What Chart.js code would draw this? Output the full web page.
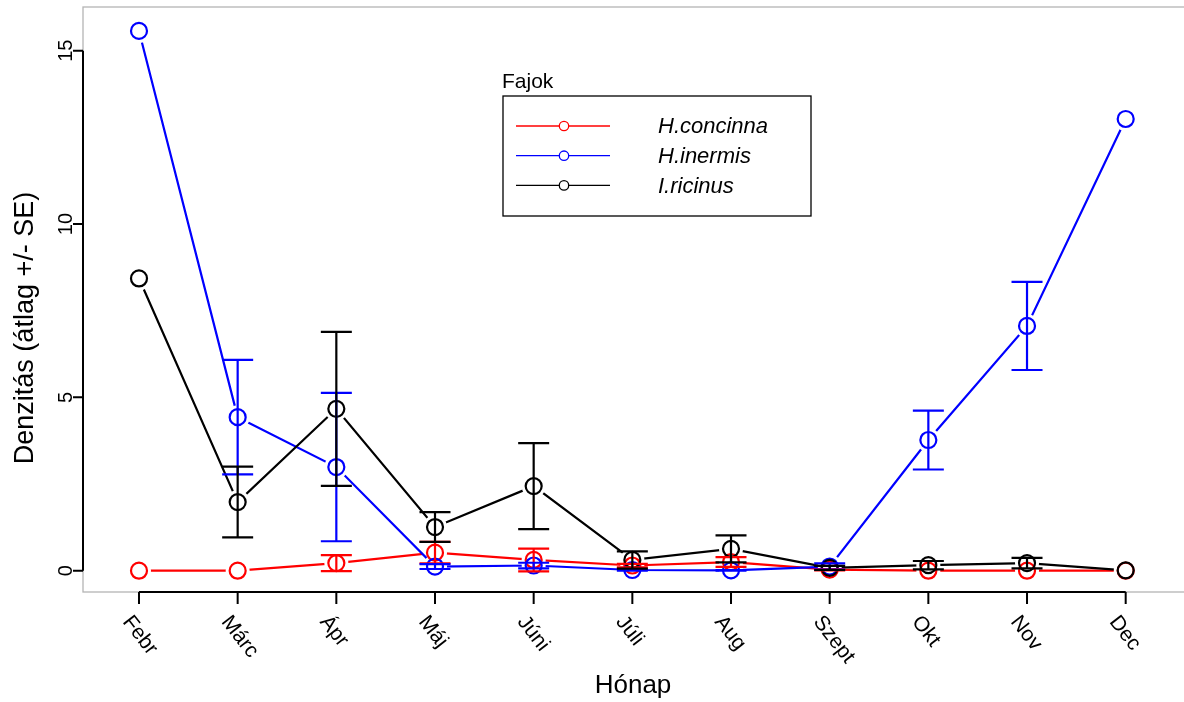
<!DOCTYPE html>
<html>
<head>
<meta charset="utf-8">
<script src="https://cdn.jsdelivr.net/npm/chart.js@4.4.0/dist/chart.umd.min.js"></script>
<style>
	body { margin: 0; background: #fff; }
	canvas { display: block; }
</style>
</head>
<body>
<canvas id="chart" width="1184" height="702"></canvas>
<script>
var months = ['Febr', 'Márc', 'Ápr', 'Máj', 'Júni', 'Júli', 'Aug', 'Szept', 'Okt', 'Nov', 'Dec'];

var concinna_mean = [0, 0, 0.22, 0.52, 0.31, 0.15, 0.25, 0.03, 0, 0, 0];
var concinna_se   = [0, 0, 0.23, 0.31, 0.33, 0.05, 0.14, 0.02, 0, 0, 0];

var inermis_mean  = [15.57, 4.43, 2.99, 0.12, 0.15, 0.02, 0.01, 0.12, 3.77, 7.06, 13.03];
var inermis_se    = [0, 1.65, 2.14, 0.07, 0.08, 0.02, 0.01, 0.09, 0.85, 1.27, 0];

var ricinus_mean  = [8.43, 1.98, 4.67, 1.26, 2.44, 0.31, 0.63, 0.08, 0.16, 0.22, 0.01];
var ricinus_se    = [0, 1.02, 2.22, 0.43, 1.24, 0.25, 0.39, 0.06, 0.12, 0.15, 0];

var species = ['H.concinna', 'H.inermis', 'I.ricinus'];
var colors  = ['#ff0000', '#0000ff', '#000000'];
var y_ticks = [0, 5, 10, 15];

var x_title = 'Hónap';
var y_title = 'Denzitás (átlag +/- SE)';
var legend_title = 'Fajok';

function to_points(values) {
	return values.map(function (v, i) { return {x: i, y: v}; });
}

// R type="b": the line is one dataset (with gaps cut round the points),
// the open circles are a second dataset
function line_dataset(i, mean, se) {
	return {
		label: species[i],
		role: 'line',
		data: to_points(mean),
		se: se,
		order: 6 - 2 * i,
		borderColor: colors[i],
		borderWidth: 2.2,
		pointRadius: 0,
		pointHoverRadius: 0,
		tension: 0
	};
}

function point_dataset(i, mean) {
	return {
		label: species[i],
		role: 'points',
		data: to_points(mean),
		order: 5 - 2 * i,
		showLine: false,
		pointRadius: 8,
		pointHoverRadius: 8,
		pointBorderWidth: 2.2,
		pointBorderColor: colors[i],
		pointBackgroundColor: 'rgba(0,0,0,0)'
	};
}

var r_style = {
	id: 'r_style',
	beforeDatasetsDraw: function (chart) {
		var ctx = chart.ctx;
		var area = chart.chartArea;
		var xs = chart.scales.x;
		var ys = chart.scales.y;

		ctx.save();
		// grey box round the plot region
		ctx.strokeStyle = '#b4b4b4';
		ctx.lineWidth = 1.3;
		ctx.strokeRect(area.left, area.top, area.right - area.left + 20, area.bottom - area.top);

		ctx.strokeStyle = '#000';
		ctx.fillStyle = '#000';
		ctx.lineWidth = 2;

		// x axis
		var x0 = xs.getPixelForValue(0);
		var x1 = xs.getPixelForValue(months.length - 1);
		ctx.beginPath();
		ctx.moveTo(x0, area.bottom);
		ctx.lineTo(x1, area.bottom);
		for (var i = 0; i < months.length; i++) {
			var px = xs.getPixelForValue(i);
			ctx.moveTo(px, area.bottom);
			ctx.lineTo(px, area.bottom + 12);
		}
		ctx.stroke();

		ctx.font = '21px "Liberation Sans", Arial, sans-serif';
		ctx.textAlign = 'left';
		ctx.textBaseline = 'alphabetic';
		for (var i = 0; i < months.length; i++) {
			var px = xs.getPixelForValue(i);
			ctx.save();
			ctx.translate(px - 17, area.bottom + 30);
			ctx.rotate(52 * Math.PI / 180);
			ctx.fillText(months[i], 0, 0);
			ctx.restore();
		}

		// y axis
		var y0 = ys.getPixelForValue(y_ticks[0]);
		var y1 = ys.getPixelForValue(y_ticks[y_ticks.length - 1]);
		ctx.beginPath();
		ctx.moveTo(area.left, y0);
		ctx.lineTo(area.left, y1);
		for (var j = 0; j < y_ticks.length; j++) {
			var py = ys.getPixelForValue(y_ticks[j]);
			ctx.moveTo(area.left, py);
			ctx.lineTo(area.left - 10, py);
		}
		ctx.stroke();

		ctx.font = '20px "Liberation Sans", Arial, sans-serif';
		ctx.textAlign = 'center';
		for (var j = 0; j < y_ticks.length; j++) {
			var py = ys.getPixelForValue(y_ticks[j]);
			ctx.save();
			ctx.translate(area.left - 11, py);
			ctx.rotate(-Math.PI / 2);
			ctx.fillText(String(y_ticks[j]), 0, 0);
			ctx.restore();
		}

		// axis titles
		ctx.font = '26px "Liberation Sans", Arial, sans-serif';
		ctx.fillText(x_title, 633, 693);
		ctx.font = '27px "Liberation Sans", Arial, sans-serif';
		ctx.save();
		ctx.translate(33, 328);
		ctx.rotate(-Math.PI / 2);
		ctx.fillText(y_title, 0, 0);
		ctx.restore();

		ctx.restore();
	},
	beforeDatasetDraw: function (chart, args) {
		var ds = chart.data.datasets[args.index];
		if (ds.role != 'line') return;
		var ctx = chart.ctx;
		var area = chart.chartArea;
		ctx.save();
		ctx.beginPath();
		ctx.rect(area.left, area.top, area.right - area.left, area.bottom - area.top);
		args.meta.data.forEach(function (el) {
			ctx.moveTo(el.x + 12, el.y);
			ctx.arc(el.x, el.y, 12, 0, Math.PI * 2);
		});
		ctx.clip('evenodd');
	},
	afterDatasetDraw: function (chart, args) {
		var ds = chart.data.datasets[args.index];
		if (ds.role == 'line') chart.ctx.restore();
	},
	afterDatasetsDraw: function (chart) {
		var ctx = chart.ctx;
		var xs = chart.scales.x;
		var ys = chart.scales.y;
		var lines = chart.data.datasets.filter(function (ds) { return ds.role == 'line'; });

		ctx.save();
		// error bars (mean +/- SE)
		ctx.lineWidth = 2.2;
		lines.forEach(function (ds) {
			ctx.strokeStyle = ds.borderColor;
			ctx.beginPath();
			ds.data.forEach(function (p, i) {
				var se = ds.se[i];
				if (!se) return;
				var px = xs.getPixelForValue(p.x);
				var top = ys.getPixelForValue(p.y + se);
				var bot = ys.getPixelForValue(p.y - se);
				ctx.moveTo(px, top);
				ctx.lineTo(px, bot);
				ctx.moveTo(px - 15.5, top);
				ctx.lineTo(px + 15.5, top);
				ctx.moveTo(px - 15.5, bot);
				ctx.lineTo(px + 15.5, bot);
			});
			ctx.stroke();
		});

		// legend
		ctx.fillStyle = '#000';
		ctx.font = '21px "Liberation Sans", Arial, sans-serif';
		ctx.textAlign = 'left';
		ctx.textBaseline = 'alphabetic';
		ctx.fillText(legend_title, 502, 88);

		ctx.strokeStyle = '#000';
		ctx.lineWidth = 1.3;
		ctx.strokeRect(503, 96, 308, 120);

		ctx.font = 'italic 22px "Liberation Sans", Arial, sans-serif';
		ctx.textBaseline = 'middle';
		lines.forEach(function (ds, i) {
			var ly = 126 + i * 29.7;
			ctx.strokeStyle = ds.borderColor;
			ctx.lineWidth = 1.3;
			ctx.beginPath();
			ctx.moveTo(516, ly);
			ctx.lineTo(610, ly);
			ctx.stroke();
			ctx.beginPath();
			ctx.fillStyle = '#fff';
			ctx.arc(564, ly, 4.7, 0, Math.PI * 2);
			ctx.fill();
			ctx.stroke();
			ctx.fillStyle = '#000';
			ctx.fillText(ds.label, 658, ly + 1);
		});
		ctx.restore();
	}
};

var ctx = document.getElementById('chart');

var myChart = new Chart(ctx, {
	type: 'line',
	data: {
		datasets: [
			line_dataset(0, concinna_mean, concinna_se),
			point_dataset(0, concinna_mean),
			line_dataset(1, inermis_mean, inermis_se),
			point_dataset(1, inermis_mean),
			line_dataset(2, ricinus_mean, ricinus_se),
			point_dataset(2, ricinus_mean)
		]
	},
	options: {
		responsive: false,
		animation: false,
		devicePixelRatio: 1,
		layout: { autoPadding: false, padding: { left: 83, top: 7, right: 0, bottom: 110 } },
		scales: {
			x: { type: 'linear', min: -0.5675, max: 10.591, display: false },
			y: { type: 'linear', min: -0.614, max: 16.26, display: false }
		},
		plugins: {
			legend: { display: false },
			tooltip: { enabled: false }
		}
	},
	plugins: [r_style]
});
</script>
</body>
</html>
